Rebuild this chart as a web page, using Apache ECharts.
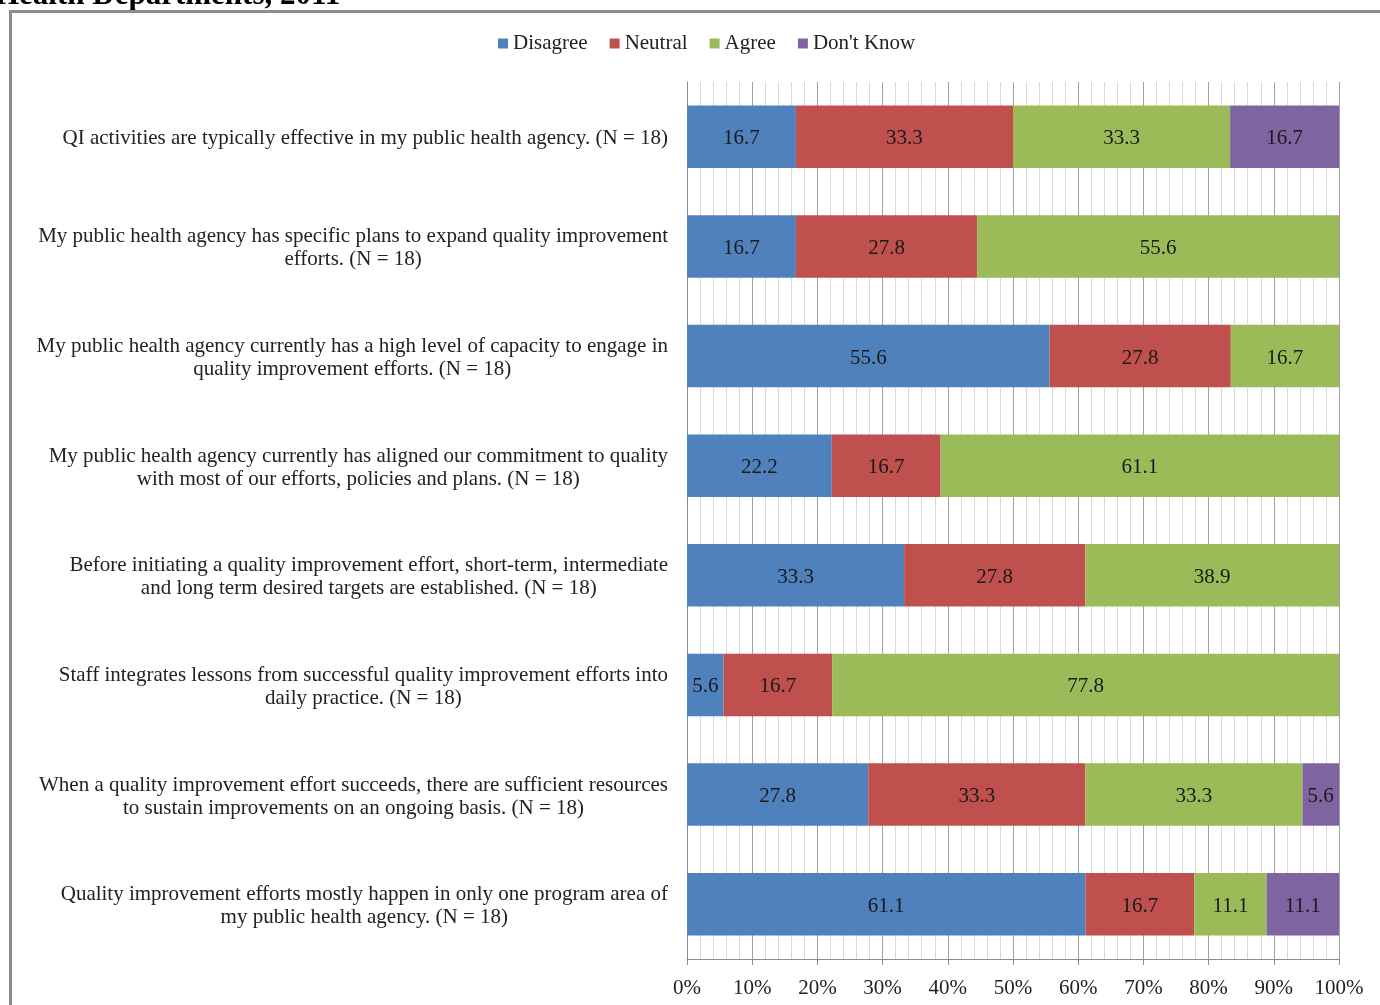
<!DOCTYPE html>
<html>
<head>
<meta charset="utf-8">
<script src="https://cdn.jsdelivr.net/npm/echarts@6/dist/echarts.min.js"></script>
<style>
  html, body { margin: 0; padding: 0; background: #fff; }
  #chart { width: 1380px; height: 1005px; }
</style>
</head>
<body>
<div id="chart"></div>
<script>
// Survey statements (top to bottom), with their printed line breaks
const statements = [
  'QI activities are typically effective in my public health agency. (N = 18)',
  'My public health agency has specific plans to expand quality improvement\nefforts. (N = 18)',
  'My public health agency currently has a high level of capacity to engage in\nquality improvement efforts. (N = 18)',
  'My public health agency currently has aligned our commitment to quality\nwith most of our efforts, policies and plans. (N = 18)',
  'Before initiating a quality improvement effort, short-term, intermediate\nand long term desired targets are established. (N = 18)',
  'Staff integrates lessons from successful quality improvement efforts into\ndaily practice. (N = 18)',
  'When a quality improvement effort succeeds, there are sufficient resources\nto sustain improvements on an ongoing basis. (N = 18)',
  'Quality improvement efforts mostly happen in only one program area of\nmy public health agency. (N = 18)'
];

// Percent of respondents per response option
const disagree = [16.7, 16.7, 55.6, 22.2, 33.3, 5.6, 27.8, 61.1];
const neutral  = [33.3, 27.8, 27.8, 16.7, 27.8, 16.7, 33.3, 16.7];
const agree    = [33.3, 55.6, 16.7, 61.1, 38.9, 77.8, 33.3, 11.1];
const dontKnow = [16.7, null, null, null, null, null, 5.6, 11.1];

const seriesNames = ['Disagree', 'Neutral', 'Agree', "Don't Know"];
const seriesColors = ['#4F81BD', '#C0504D', '#9BBB59', '#8064A2'];
const seriesData = [disagree, neutral, agree, dontKnow];

const FONT = '"Liberation Serif", "DejaVu Serif", serif';
const FS = 21;

const chart = echarts.init(document.getElementById('chart'));

chart.setOption({
  animation: false,
  backgroundColor: '#ffffff',
  textStyle: { fontFamily: FONT },
  title: {
    text: 'Health Departments, 2011',
    left: -10,
    top: -25,
    textStyle: { fontFamily: FONT, fontSize: 31, fontWeight: 'bold', color: '#000' }
  },
  graphic: [{
    type: 'rect',
    left: 8,
    top: 9,
    shape: { width: 1400, height: 1020 },
    style: { fill: 'none', stroke: '#8c8c8c', lineWidth: 3 },
    silent: true,
    z: 100
  }],
  legend: {
    top: 28,
    left: 493,
    itemWidth: 10,
    itemHeight: 10,
    itemGap: 22,
    icon: 'rect',
    textStyle: { fontFamily: FONT, fontSize: FS, color: '#222' },
    data: seriesNames
  },
  grid: { left: 687, right: 41, top: 82, bottom: 46, containLabel: false },
  xAxis: {
    type: 'value',
    min: 0,
    max: 100,
    interval: 10,
    axisLine: { show: true, lineStyle: { color: '#8c8c8c', width: 1 } },
    axisTick: { show: true, length: 6, lineStyle: { color: '#8c8c8c' } },
    axisLabel: {
      formatter: '{value}%',
      fontFamily: FONT,
      fontSize: FS,
      color: '#222',
      margin: 19
    },
    splitLine: { show: true, lineStyle: { color: '#a0a0a0', width: 1 } },
    minorTick: { show: true, splitNumber: 5, length: 0 },
    minorSplitLine: { show: true, lineStyle: { color: '#d9d9d9', width: 1 } }
  },
  yAxis: {
    type: 'category',
    inverse: true,
    data: statements,
    axisLine: { show: true, lineStyle: { color: '#8c8c8c' } },
    axisTick: { show: false },
    axisLabel: {
      align: 'right',
      margin: 19,
      lineHeight: 23,
      padding: [4, 0, 0, 0],
      formatter: function (v) {
        return v.split('\n').map(function (s) { return '{c|' + s + '}'; }).join('\n');
      },
      rich: {
        c: { align: 'center', fontFamily: FONT, fontSize: FS, color: '#222', lineHeight: 23 }
      }
    }
  },
  series: seriesData.map(function (d, i) {
    return {
      name: seriesNames[i],
      type: 'bar',
      stack: 'total',
      barCategoryGap: '43%',
      data: d,
      itemStyle: { color: seriesColors[i] },
      label: {
        show: true,
        position: 'inside',
        fontFamily: FONT,
        fontSize: FS,
        color: '#1a1a1a',
        offset: [0, 2],
        formatter: function (p) { return p.value == null ? '' : p.value.toFixed(1); }
      }
    };
  })
});
</script>
</body>
</html>
